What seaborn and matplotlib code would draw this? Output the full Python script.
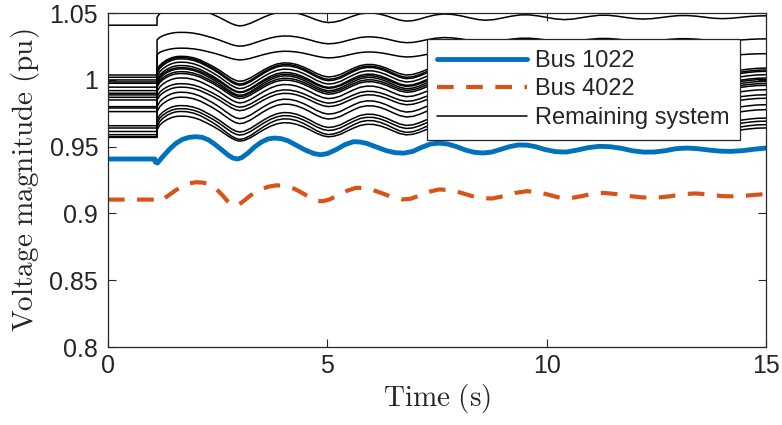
import numpy as np
import pandas as pd
import matplotlib
matplotlib.use("Agg")
import matplotlib.pyplot as plt
from matplotlib.lines import Line2D
import seaborn as sns

# Bus 1022
t_1022 = [0, 1.07, 1.08, 1.13, 1.25, 1.4, 1.55, 1.7, 1.85, 2.0, 2.15, 2.3, 2.45, 2.6, 2.75,
          2.85, 2.95, 3.05, 3.2, 3.35, 3.5, 3.65, 3.8, 3.95, 4.1, 4.3, 4.5, 4.7, 4.85, 5.0,
          5.2, 5.4, 5.6, 5.75, 5.9, 6.1, 6.35, 6.55, 6.75, 6.95, 7.15, 7.35, 7.55, 7.75,
          7.95, 8.15, 8.35, 8.55, 8.75, 8.95, 9.15, 9.35, 9.55, 9.75, 9.95, 10.2, 10.45,
          10.7, 10.95, 11.2, 11.45, 11.7, 11.95, 12.2, 12.45, 12.7, 12.95, 13.2, 13.45,
          13.7, 13.95, 14.2, 14.45, 14.7, 15.0]
v_1022 = [0.9408, 0.9408, 0.9385, 0.9378, 0.9425, 0.948, 0.9525, 0.9555, 0.957, 0.9575,
          0.957, 0.955, 0.9515, 0.9475, 0.9435, 0.9415, 0.9408, 0.9418, 0.9455, 0.950,
          0.9535, 0.9558, 0.9565, 0.956, 0.9545, 0.951, 0.9475, 0.9448, 0.944, 0.9448,
          0.9478, 0.9515, 0.9538, 0.9535, 0.9525, 0.950, 0.947, 0.9455, 0.9452, 0.9465,
          0.9495, 0.952, 0.9527, 0.952, 0.950, 0.9475, 0.9458, 0.9453, 0.946, 0.948, 0.950,
          0.9513, 0.9512, 0.950, 0.948, 0.9463, 0.946, 0.9475, 0.9493, 0.9503, 0.950,
          0.9488, 0.947, 0.946, 0.946, 0.947, 0.9485, 0.949, 0.9485, 0.9475, 0.9467,
          0.9465, 0.947, 0.948, 0.949]

# Bus 4022
t_4022 = [0, 1.05, 1.12, 1.25, 1.4, 1.55, 1.7, 1.85, 2.0, 2.15, 2.3, 2.45, 2.6, 2.72, 2.85,
          2.98, 3.1, 3.25, 3.45, 3.65, 3.85, 4.05, 4.25, 4.45, 4.6, 4.75, 4.9, 5.05, 5.25,
          5.45, 5.65, 5.85, 6.05, 6.3, 6.5, 6.7, 6.9, 7.1, 7.35, 7.55, 7.8, 8.05, 8.3,
          8.55, 8.75, 9.0, 9.3, 9.55, 9.8, 10.05, 10.3, 10.55, 10.8, 11.05, 11.3, 11.6,
          11.9, 12.2, 12.5, 12.8, 13.1, 13.4, 13.7, 14.0, 14.3, 14.6, 15.0]
v_4022 = [0.9104, 0.9104, 0.909, 0.9105, 0.914, 0.9175, 0.9205, 0.9225, 0.9234, 0.9232,
          0.922, 0.919, 0.914, 0.9095, 0.9062, 0.9065, 0.9095, 0.9135, 0.9175, 0.920,
          0.9211, 0.9205, 0.9185, 0.915, 0.912, 0.9095, 0.9092, 0.9105, 0.9138, 0.917,
          0.9192, 0.919, 0.9175, 0.9145, 0.912, 0.9105, 0.911, 0.9135, 0.9165, 0.918,
          0.9175, 0.9155, 0.913, 0.9115, 0.9112, 0.9128, 0.9155, 0.9167, 0.916, 0.914,
          0.9118, 0.9115, 0.913, 0.9148, 0.9154, 0.9145, 0.913, 0.912, 0.9118, 0.9128,
          0.9145, 0.915, 0.9142, 0.913, 0.9128, 0.9135, 0.9146]

# remaining system: common swing shape after the event (per unit of swing size)
t_swing = [1.12, 1.18, 1.25, 1.35, 1.45, 1.55, 1.65, 1.8, 1.95, 2.1, 2.25, 2.4, 2.55, 2.7,
           2.82, 2.92, 3.0, 3.1, 3.25, 3.4, 3.55, 3.7, 3.85, 4.0, 4.15, 4.3, 4.45, 4.6,
           4.75, 4.9, 5.02, 5.15, 5.3, 5.45, 5.6, 5.75, 5.9, 6.05, 6.2, 6.35, 6.5, 6.65,
           6.8, 6.95, 7.1, 7.25, 7.45, 7.65, 7.85, 8.05, 8.25, 8.45, 8.6, 8.8, 9.0, 9.2,
           9.4, 9.6, 9.8, 10.0, 10.2, 10.4, 10.6, 10.8, 11.0, 11.2, 11.4, 11.6, 11.8,
           12.0, 12.2, 12.4, 12.6, 12.8, 13.0, 13.2, 13.4, 13.6, 13.8, 14.0, 14.2, 14.4,
           14.6, 14.8, 15.0]
swing = [0.0, 0.4, 0.65, 0.9, 1.07, 1.17, 1.2, 1.18, 1.07, 0.88, 0.6, 0.3, -0.05, -0.45,
         -0.75, -0.93, -1.0, -0.95, -0.7, -0.35, 0.0, 0.3, 0.52, 0.62, 0.6, 0.48, 0.27,
         0.0, -0.3, -0.53, -0.62, -0.57, -0.4, -0.12, 0.15, 0.38, 0.48, 0.47, 0.35, 0.15,
         -0.1, -0.33, -0.45, -0.4, -0.23, 0.0, 0.25, 0.37, 0.32, 0.15, -0.08, -0.28, -0.35,
         -0.28, -0.08, 0.12, 0.26, 0.27, 0.15, -0.02, -0.2, -0.28, -0.22, -0.05, 0.1,
         0.22, 0.22, 0.12, -0.03, -0.16, -0.22, -0.17, -0.05, 0.08, 0.18, 0.19, 0.12, 0.0,
         -0.12, -0.17, -0.13, -0.03, 0.07, 0.14, 0.16]
t_event = 1.12
pre_level = [1.041, 1.0037, 1.002, 1.000, 0.9985, 0.9975, 0.9946, 0.992, 0.990, 0.9888,
             0.987, 0.985, 0.980, 0.979, 0.9763, 0.9657, 0.964, 0.9614, 0.959, 0.957, 0.9575]
post_level = [1.047, 1.030, 1.019, 1.0075, 1.006, 1.005, 1.0025, 1.000, 0.999, 0.9975,
              0.996, 0.9946, 0.9913, 0.9876, 0.985, 0.980, 0.9763, 0.970, 0.9677, 0.965, 0.9627]
swing_size = [0.0065, 0.0047, 0.004, 0.0085, 0.009, 0.009, 0.009, 0.009, 0.0085, 0.009,
              0.0085, 0.0085, 0.0085, 0.008, 0.008, 0.009, 0.009, 0.009, 0.009, 0.0095, 0.0085]

rows = []
for i, (a, b, s) in enumerate(zip(pre_level, post_level, swing_size)):
    rows.append((i, 0.0, a))
    rows.append((i, t_event, a))
    for t, w in zip(t_swing, swing):
        rows.append((i, t, b + s * w))
others = pd.DataFrame(rows, columns=["bus", "time", "v"])

sns.set_style("ticks")
plt.rcParams["mathtext.fontset"] = "cm"
plt.rcParams["font.family"] = ["Liberation Sans", "DejaVu Sans"]

fig = plt.figure(figsize=(7.82, 4.25), dpi=100)
ax = fig.add_axes([0.138, 0.1835, 0.8415, 0.7855])

sns.lineplot(data=others, x="time", y="v", units="bus", estimator=None, sort=False,
             color="black", lw=1.1, ax=ax, legend=False)
sns.lineplot(x=t_1022, y=v_1022, color="#0072BD", lw=3.5, ax=ax, sort=False)
sns.lineplot(x=t_4022, y=v_4022, color="#D95319", lw=3, ax=ax, sort=False,
             linestyle=(0, (4, 3)))

ax.set_xlim(0, 15)
ax.set_ylim(0.8, 1.05)
ax.set_xticks([0, 5, 10, 15])
ax.set_yticks([0.8, 0.85, 0.9, 0.95, 1.0, 1.05])
ax.set_yticklabels(["0.8", "0.85", "0.9", "0.95", "1", "1.05"])
ax.tick_params(direction="in", length=6, width=0.8, top=True, right=True,
               labelsize=18, colors="#262626", pad=7)
ax.tick_params(axis="x", pad=5)
for sp in ax.spines.values():
    sp.set_color("#262626")
    sp.set_linewidth(0.9)
ax.set_xlabel(r"$\mathrm{Time\ (s)}$", fontsize=21, labelpad=3)
ax.set_ylabel(r"$\mathrm{Voltage\ magnitude\ (pu)}$", fontsize=21, labelpad=5)

handles = [Line2D([], [], color="#0072BD", lw=3.5),
           Line2D([], [], color="#D95319", lw=3, linestyle=(0, (4, 3))),
           Line2D([], [], color="black", lw=1.1)]
leg = ax.legend(handles, ["Bus 1022", "Bus 4022", "Remaining system"], loc="upper right",
                bbox_to_anchor=(0.961, 0.922), fontsize=17, handlelength=3.8,
                frameon=True, fancybox=False, framealpha=1, edgecolor="#262626",
                borderpad=0.45, labelspacing=0.28, handletextpad=0.35, borderaxespad=0)
leg.get_frame().set_linewidth(0.9)

fig.savefig("out.png", dpi=100)
